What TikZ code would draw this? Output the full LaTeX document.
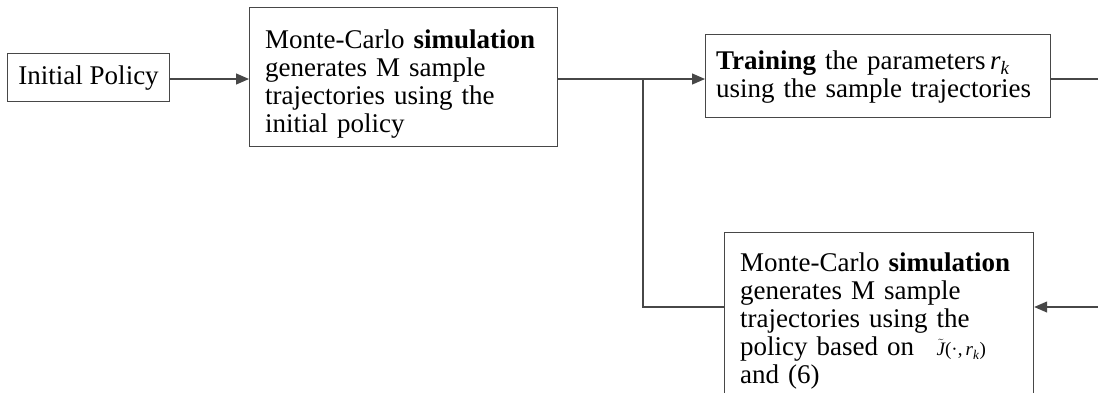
\documentclass[tikz,border=0pt]{standalone}
\usepackage{fontspec}
\setmainfont{Liberation Serif}
\usetikzlibrary{arrows.meta}
\tikzset{
  box/.style={draw=black!72, line width=1.2pt, rectangle, inner sep=0pt, anchor=north west},
  txt/.style={align=left, inner sep=0pt, anchor=north west, font=\fontsize{27}{28}\selectfont},
  conn/.style={draw=black!72, line width=1.2pt},
  arr/.style={conn, -{Triangle[length=13pt,width=11pt]}}
}
\begin{document}
\begin{tikzpicture}[x=1pt,y=-1pt]
\clip (0,0) rectangle (1098,392);
% boxes
\node[box, minimum width=162pt, minimum height=48pt] (init) at (7,53) {};
\node[box, minimum width=308pt, minimum height=139pt] (mc1) at (249,7) {};
\node[box, minimum width=345pt, minimum height=83pt] (train) at (705,34) {};
\node[box, minimum width=309pt, minimum height=180pt] (mc2) at (724,232) {};
% texts
\node[font=\fontsize{27}{28}\selectfont, inner sep=0pt] (initt) at (init.center) {Initial Policy};
\node[txt, text width=290pt] (mc1t) at (265,30) {Monte-Carlo \textbf{simulation}\\ generates M sample\\ trajectories using the\\ initial policy};
\node[txt, text width=330pt] (traint) at (716,51) {\textbf{Training} the parameters\,\textit{r}\textsubscript{\textit{k}}\\ using the sample trajectories};
\node[txt, text width=290pt] (mc2t) at (740,253) {Monte-Carlo \textbf{simulation}\\ generates M sample\\ trajectories using the\\ policy based on\ \ \,{\fontsize{19}{19}\selectfont$\tilde{\textit{J}}$(·,\,\textit{r}\textsubscript{\textit{k}})}\\ and (6)};
% connectors
\coordinate (j) at (643,79);
\coordinate (k) at (643,307);
\coordinate (r1) at (1098,79);
\coordinate (r2) at (1098,307);
\draw[arr] (init.east |- j) -- (mc1.west |- j);
\draw[arr] (mc1.east |- j) -- (train.west |- j);
\draw[conn] (j) -- (k) -- (k -| mc2.west);
\draw[conn] (train.east |- r1) -- (r1);
\draw[arr] (r2) -- (r2 -| mc2.east);
\end{tikzpicture}
\end{document}
